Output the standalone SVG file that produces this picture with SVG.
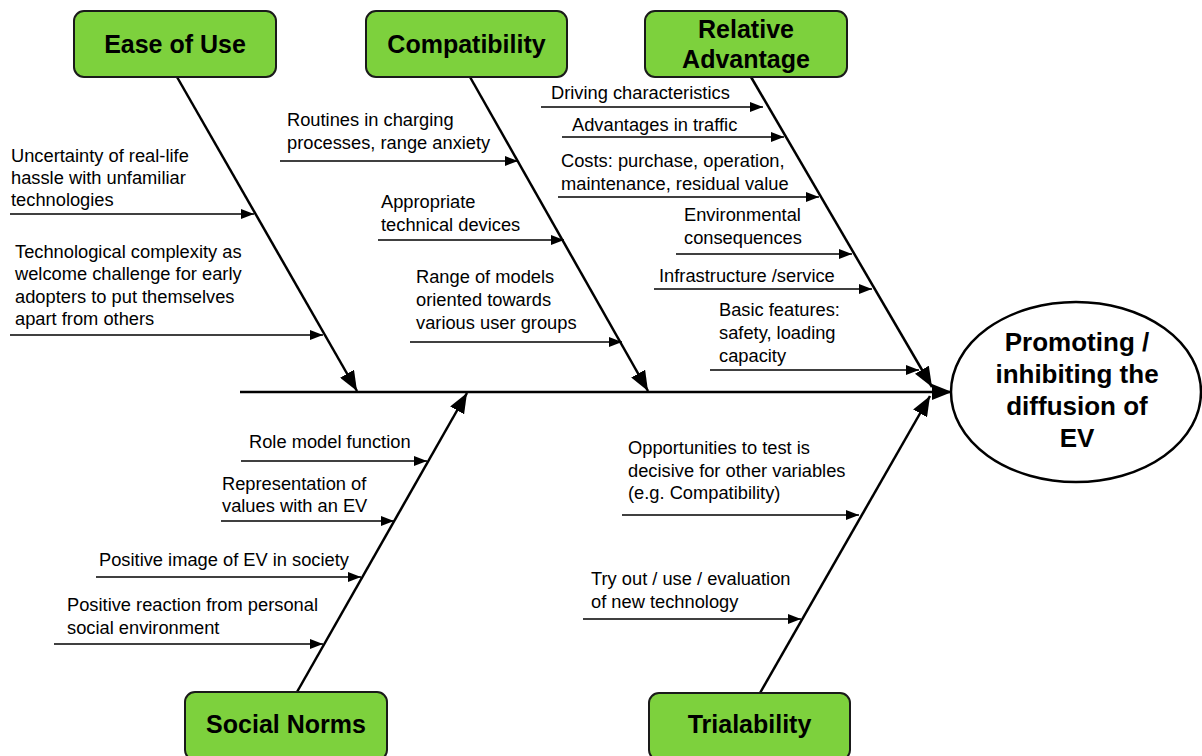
<svg xmlns="http://www.w3.org/2000/svg" width="1202" height="756" viewBox="0 0 1202 756">
<style>
.box{fill:#7dd13d;stroke:#1a1a1a;stroke-width:2}
.bt{font-family:"Liberation Sans",Arial,sans-serif;font-weight:bold;font-size:25px;fill:#000;text-anchor:middle}
.et{font-family:"Liberation Sans",Arial,sans-serif;font-weight:bold;font-size:26px;fill:#000;text-anchor:middle}
.t{font-family:"Liberation Sans",Arial,sans-serif;font-size:18.3px;fill:#000}
.bone{stroke:#000;stroke-width:2.5;fill:none;marker-end:url(#big)}
.sub{stroke:#000;stroke-width:1.6;fill:none;marker-end:url(#small)}
</style>
<defs>
<marker id="small" markerUnits="userSpaceOnUse" markerWidth="13" markerHeight="10" refX="13" refY="5" orient="auto"><path d="M0,0 L13,5 L0,10 z" fill="#000"/></marker>
<marker id="big" markerUnits="userSpaceOnUse" markerWidth="20" markerHeight="16" refX="20" refY="8" orient="auto"><path d="M0,0 L20,8 L0,16 z" fill="#000"/></marker>
</defs>
<rect width="1202" height="756" fill="#fff"/>
<g id="connectors">
<line class="bone" x1="240" y1="392" x2="952" y2="392"/>
<line class="bone" x1="177" y1="77" x2="357" y2="391"/>
<line class="bone" x1="470" y1="77" x2="648" y2="391"/>
<line class="bone" x1="751" y1="77" x2="932" y2="387"/>
<line class="bone" x1="297" y1="692" x2="467" y2="393"/>
<line class="bone" x1="760" y1="693" x2="930" y2="396"/>
<line class="sub" x1="10" y1="214" x2="254" y2="214"/>
<line class="sub" x1="10" y1="335" x2="323" y2="335"/>
<line class="sub" x1="280" y1="161" x2="518" y2="161"/>
<line class="sub" x1="378" y1="240" x2="564" y2="240"/>
<line class="sub" x1="410" y1="342" x2="622" y2="342"/>
<line class="sub" x1="541" y1="107" x2="763" y2="107"/>
<line class="sub" x1="562" y1="137" x2="784" y2="137"/>
<line class="sub" x1="558" y1="197" x2="819" y2="197"/>
<line class="sub" x1="676" y1="254" x2="852" y2="254"/>
<line class="sub" x1="654" y1="289" x2="872" y2="289"/>
<line class="sub" x1="710" y1="370" x2="919" y2="370"/>
<line class="sub" x1="241" y1="461" x2="427" y2="461"/>
<line class="sub" x1="221" y1="521" x2="394" y2="521"/>
<line class="sub" x1="96" y1="577" x2="361" y2="577"/>
<line class="sub" x1="54" y1="644" x2="323" y2="644"/>
<line class="sub" x1="622" y1="515" x2="859" y2="515"/>
<line class="sub" x1="583" y1="619" x2="801" y2="619"/>
</g>
<g id="ease-of-use">
<rect class="box" x="74" y="11" width="202" height="66" rx="10"/>
<text class="bt" x="175" y="53">Ease of Use</text>
</g>
<g id="compatibility">
<rect class="box" x="366" y="11" width="201" height="66" rx="10"/>
<text class="bt" x="466.5" y="53">Compatibility</text>
</g>
<g id="relative-advantage">
<rect class="box" x="645" y="11" width="202" height="66" rx="10"/>
<text class="bt" x="746" y="38">Relative</text>
<text class="bt" x="746" y="68">Advantage</text>
</g>
<g id="social-norms">
<rect class="box" x="185" y="692" width="202" height="68" rx="10"/>
<text class="bt" x="286" y="733">Social Norms</text>
</g>
<g id="trialability">
<rect class="box" x="649" y="693" width="201" height="67" rx="10"/>
<text class="bt" x="749.5" y="733">Trialability</text>
</g>
<g id="outcome">
<ellipse cx="1076" cy="392" rx="125" ry="90" fill="#fff" stroke="#000" stroke-width="2.5"/>
<text class="et" x="1077" y="351">Promoting /</text>
<text class="et" x="1077" y="383">inhibiting the</text>
<text class="et" x="1077" y="415">diffusion of</text>
<text class="et" x="1077" y="447">EV</text>
</g>
<g id="ease-causes">
<text class="t" x="11" y="162">Uncertainty of real-life</text>
<text class="t" x="11" y="184">hassle with unfamiliar</text>
<text class="t" x="11" y="206">technologies</text>
<text class="t" x="15" y="258">Technological complexity as</text>
<text class="t" x="15" y="280">welcome challenge for early</text>
<text class="t" x="15" y="303">adopters to put themselves</text>
<text class="t" x="15" y="325">apart from others</text>
</g>
<g id="compat-causes">
<text class="t" x="287" y="126">Routines in charging</text>
<text class="t" x="287" y="149">processes, range anxiety</text>
<text class="t" x="381" y="208">Appropriate</text>
<text class="t" x="381" y="231">technical devices</text>
<text class="t" x="416" y="283">Range of models</text>
<text class="t" x="416" y="306">oriented towards</text>
<text class="t" x="416" y="329">various user groups</text>
</g>
<g id="advantage-causes">
<text class="t" x="551" y="99">Driving characteristics</text>
<text class="t" x="572" y="131">Advantages in traffic</text>
<text class="t" x="561" y="167">Costs: purchase, operation,</text>
<text class="t" x="561" y="190">maintenance, residual value</text>
<text class="t" x="684" y="221">Environmental</text>
<text class="t" x="684" y="244">consequences</text>
<text class="t" x="659" y="282">Infrastructure /service</text>
<text class="t" x="719" y="316">Basic features:</text>
<text class="t" x="719" y="339">safety, loading</text>
<text class="t" x="719" y="362">capacity</text>
</g>
<g id="social-causes">
<text class="t" x="249" y="448">Role model function</text>
<text class="t" x="222" y="490">Representation of</text>
<text class="t" x="222" y="512">values with an EV</text>
<text class="t" x="99" y="566">Positive image of EV in society</text>
<text class="t" x="67" y="611">Positive reaction from personal</text>
<text class="t" x="67" y="634">social environment</text>
</g>
<g id="trial-causes">
<text class="t" x="628" y="454">Opportunities to test is</text>
<text class="t" x="628" y="477">decisive for other variables</text>
<text class="t" x="628" y="499">(e.g. Compatibility)</text>
<text class="t" x="591" y="585">Try out / use / evaluation</text>
<text class="t" x="591" y="608">of new technology</text>
</g>
</svg>
